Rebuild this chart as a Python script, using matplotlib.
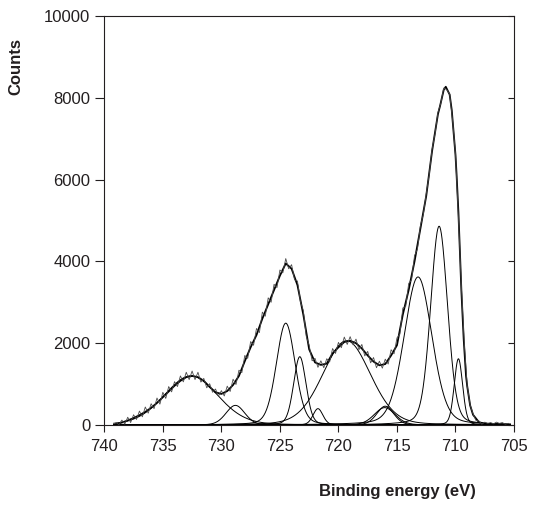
import numpy as np
import matplotlib
matplotlib.use("Agg")
import matplotlib.pyplot as plt

plt.rcParams['font.family'] = ['Liberation Sans', 'DejaVu Sans']

# ---- fitted component peaks ----
peak_centers = [732.6, 728.8, 724.5, 723.3, 721.75, 719.3, 716.0, 716.05, 713.2, 711.4, 709.75]
peak_heights = [1200, 480, 2490, 1670, 400, 2060, 460, 425, 3620, 4860, 1620]
peak_fwhm = [5.4, 1.9, 1.9, 1.25, 1.0, 4.8, 1.7, 2.1, 2.8, 1.7, 0.85]
peak_lorentz = [0.15, 0.15, 0.2, 0.2, 0.2, 0.15, 0.2, 0.2, 0.2, 0.2, 0.2]

# ---- fit envelope ----
env_energy = [739.0, 738.5, 738.0, 737.5, 737.0, 736.5, 736.0, 735.5, 735.0, 734.5,
              734.0, 733.5, 733.0, 732.5, 732.0, 731.5, 731.0, 730.5, 730.0, 729.5,
              729.0, 728.5, 728.0, 727.5, 727.0, 726.5, 726.0, 725.5, 725.0, 724.5,
              724.0, 723.5, 723.0, 722.5, 722.0, 721.5, 721.0, 720.5, 720.0, 719.5,
              719.0, 718.5, 718.0, 717.5, 717.0, 716.5, 716.0, 715.5, 715.0, 714.5,
              714.0, 713.5, 713.0, 712.5, 712.0, 711.5, 711.32, 711.0, 710.83, 710.5,
              710.32, 710.0, 709.9, 709.75, 709.5, 709.3, 709.1, 709.0, 708.75, 708.5,
              708.0, 707.5, 707.0, 706.5, 706.0, 705.5]
env_counts = [20, 60, 110, 170, 240, 320, 420, 540, 680, 820,
              960, 1080, 1170, 1200, 1170, 1080, 930, 800, 760, 830,
              980, 1200, 1560, 1900, 2200, 2600, 2950, 3300, 3650, 3950,
              3820, 3420, 2700, 1850, 1530, 1470, 1500, 1750, 1900, 2030,
              2060, 2000, 1870, 1700, 1550, 1460, 1490, 1700, 1950, 2700,
              3300, 4000, 4800, 5600, 6700, 7600, 7800, 8200, 8270, 8080,
              7700, 6600, 6080, 5200, 3300, 2100, 1200, 950, 480, 250,
              70, 30, 20, 20, 15, 10]

meas_start = 739.0
meas_step = 0.25
meas_counts = [60, 10, 120, 20, 190, 60, 250, 135, 340, 200,
               440, 290, 520, 400, 660, 510, 800, 650, 940, 810,
               1060, 940, 1200, 1055, 1290, 1110, 1320, 1110, 1290, 1050,
               1140, 910, 1010, 800, 880, 705, 840, 710, 950, 820,
               1120, 990, 1340, 1280, 1700, 1630, 2040, 1950, 2360, 2260,
               2760, 2660, 3110, 3000, 3440, 3360, 3790, 3720, 4070, 3820,
               3920, 3550, 3520, 3020, 2800, 2170, 1950, 1570, 1630, 1410,
               1570, 1400, 1620, 1540, 1870, 1750, 2020, 1890, 2150, 1970,
               2160, 1960, 2100, 1840, 1970, 1690, 1800, 1520, 1650, 1400,
               1560, 1390, 1610, 1490, 1840, 1740, 2130, 2220, 2860, 2900,
               3460, 3550, 4140, 4300, 4870, 5150, 5650, 6120, 6740, 7120,
               7640, 7870, 8240, 8200, 8090, 7460, 6620, 5080, 3410, 1990,
               960, 490, 270, 110, 100, 20, 70, 40, 60, 30,
               70, 40, 60, 20, 40]

x_ticks = [740, 735, 730, 725, 720, 715, 710, 705]
y_ticks = [0, 2000, 4000, 6000, 8000, 10000]


def pseudo_voigt(x, c, h, w, eta):
    g = np.exp(-4 * np.log(2) * (x - c) ** 2 / w ** 2)
    l = 1.0 / (1.0 + 4 * (x - c) ** 2 / w ** 2)
    return h * (eta * l + (1 - eta) * g)


fig = plt.figure(figsize=(5.33, 5.05), dpi=100)
ax = fig.add_axes([0.1957, 0.1584, 0.7687, 0.8099])

xg = np.linspace(739.2, 705.3, 1200)
for c, h, w, eta in zip(peak_centers, peak_heights, peak_fwhm, peak_lorentz):
    ax.plot(xg, pseudo_voigt(xg, c, h, w, eta), color='black', lw=0.7)

meas_energy = meas_start - meas_step * np.arange(len(meas_counts))
ax.plot(env_energy, env_counts, color='black', lw=1.3)
ax.plot(meas_energy, meas_counts, color='#4a4a4a', lw=0.6)

ax.set_xlim(740, 705)
ax.set_ylim(0, 10000)
ax.set_xticks(x_ticks)
ax.set_yticks(y_ticks)
ax.tick_params(axis='x', direction='out', length=5, width=0.8, labelsize=12,
               pad=5, colors='#231f20')
ax.tick_params(axis='y', which='both', direction='out', length=6.5, width=0.8,
               labelsize=12, pad=3.5, colors='#231f20', right=False)
for s in ax.spines.values():
    s.set_linewidth(0.8)
    s.set_color('#231f20')

# inward ticks on the right spine
ax2 = ax.twinx()
ax2.set_ylim(0, 10000)
ax2.set_yticks(y_ticks)
ax2.tick_params(axis='y', direction='in', length=4, width=0.8, labelright=False,
                colors='#231f20')
for s in ax2.spines.values():
    s.set_visible(False)

fig.text(0.030, 0.869, 'Counts', rotation=90, ha='center', va='center',
         fontsize=12, fontweight='bold', color='#231f20')
fig.text(0.746, 0.027, 'Binding energy (eV)', ha='center', va='center',
         fontsize=12, fontweight='bold', color='#231f20')

fig.savefig('out.png', dpi=100)
